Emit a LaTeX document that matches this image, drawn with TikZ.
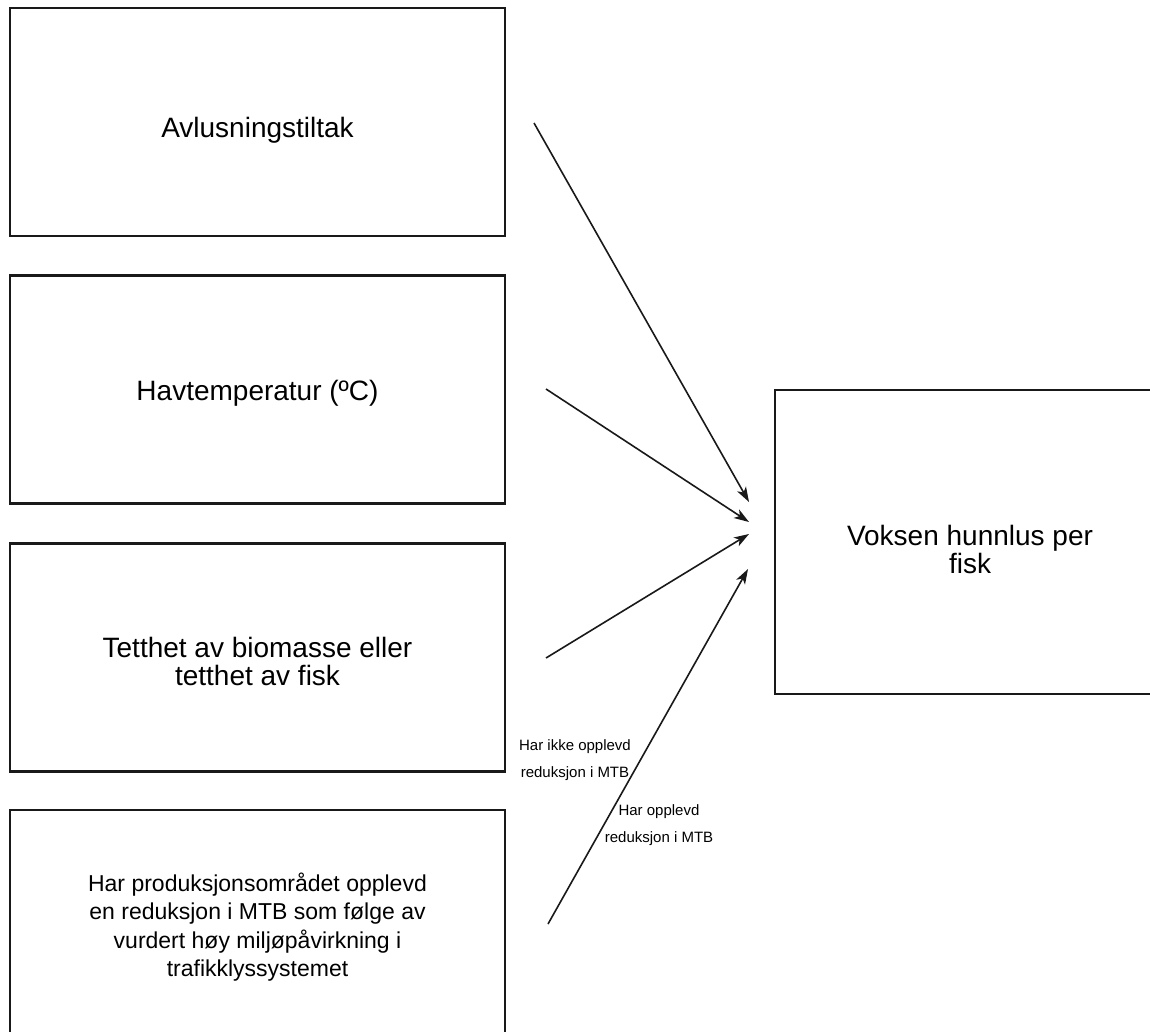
\documentclass[tikz,border=0pt]{standalone}
\usepackage{fontspec}
\setmainfont{Liberation Sans}
\usetikzlibrary{arrows.meta}
\begin{document}
\begin{tikzpicture}[x=1pt,y=-1pt,
  box/.style={draw=black!90, line width=2.8pt, inner sep=0pt},
  small/.style={box, minimum width=495pt, minimum height=228pt},
  txt/.style={align=center, inner sep=0pt},
  big/.style={txt, font=\fontsize{28}{28}\selectfont},
  mid/.style={txt, font=\fontsize{23}{28.3}\selectfont},
  lbl/.style={font=\fontsize{15}{27.5}\selectfont, align=center, inner sep=0pt},
  arr/.style={line width=1.6pt, draw=black!90, -{Stealth[length=15pt,width=10pt,inset=4pt]}}]
\useasboundingbox (0,0) rectangle (1150,1032);
\clip (0,0) rectangle (1150,1032);
\node[small] (a) at (257.5,122) {};
\node[small] (b) at (257.5,389.5) {};
\node[small] (c) at (257.5,657.5) {};
\node[small] (d) at (257.5,924) {};
\node[box, minimum width=390pt, minimum height=304pt] (r) at (970,542) {};
\node[big] (ta) at ([yshift=-8pt]a.center) {Avlusningstiltak};
\node[big] (tb) at ([yshift=-4pt]b.center) {Havtemperatur (ºC)};
\node[big] (tc) at ([yshift=-4pt]c.center) {Tetthet av biomasse eller\\tetthet av fisk};
\node[mid] (td) at ([yshift=-3pt]d.center) {Har produksjonsområdet opplevd\\en reduksjon i MTB som følge av\\vurdert høy miljøpåvirkning i\\trafikklyssystemet};
\node[big] (tr) at ([yshift=-7pt]r.center) {Voksen hunnlus per\\fisk};
\coordinate (s1) at (534,123);
\coordinate (e1) at (749,502);
\coordinate (s2) at (546,389);
\coordinate (e2) at (749,522);
\coordinate (s3) at (546,658);
\coordinate (e3) at (749,534);
\coordinate (s4) at (548,924);
\coordinate (e4) at (748,569);
\draw[arr] (s1) -- (e1);
\draw[arr] (s2) -- (e2);
\draw[arr] (s3) -- (e3);
\draw[arr] (s4) -- (e4);
\node[lbl] (l1) at (575,760) {Har ikke opplevd\\reduksjon i MTB};
\node[lbl] (l2) at (659,825) {Har opplevd\\reduksjon i MTB};
\end{tikzpicture}
\end{document}
